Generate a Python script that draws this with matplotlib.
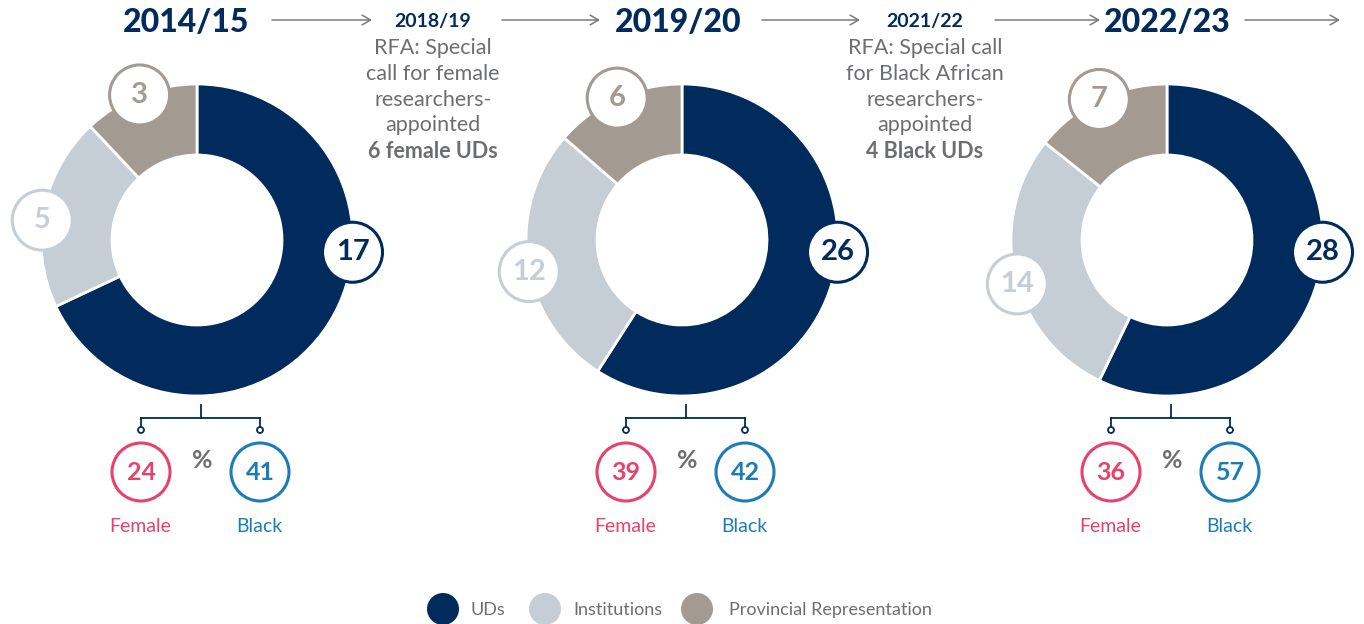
import matplotlib
matplotlib.use("Agg")
import matplotlib.pyplot as plt
from matplotlib.patches import Circle
import numpy as np

plt.rcParams['font.family'] = ['Lato', 'DejaVu Sans']

# ---------------- data ----------------
years = ['2014/15', '2019/20', '2022/23']
uds = [17, 26, 28]
institutions = [5, 12, 14]
provincial = [3, 6, 7]
female_pct = [24, 39, 36]
black_pct = [41, 42, 57]
milestone_years = ['2018/19', '2021/22']
milestone_texts = [['RFA: Special', 'call for female', 'researchers-', 'appointed'],
                   ['RFA: Special call', 'for Black African', 'researchers-', 'appointed']]
milestone_bold = ['6 female UDs', '4 Black UDs']
legend_labels = ['UDs', 'Institutions', 'Provincial Representation']

# ---------------- style ----------------
C_UD = '#002B5C'
C_INST = '#C5CED4'
C_PROV = '#A39A92'
C_FEM = '#E8416B'
C_BLK = '#1A7DB8'
C_GREY = '#6D6E71'
C_ARROW = '#7A7A7A'
seg_colors = [C_UD, C_INST, C_PROV]

W, H = 1364, 624
fig = plt.figure(figsize=(W / 100, H / 100), dpi=100)
ax = fig.add_axes([0, 0, 1, 1])

def Y(py):
    return H - py

centers_x = [197, 682, 1167]
header_x = [186, 678, 1167]
cy = 240
R_OUT = 156
R_W = 71
ud_label_angle = -4.5
label_angle_offset = [0, 3.5, 0]

for i, cx in enumerate(centers_x):
    vals = [uds[i], institutions[i], provincial[i]]
    ax.pie(vals, colors=seg_colors, startangle=90, counterclock=False,
           radius=R_OUT, center=(cx, Y(cy)), frame=True,
           wedgeprops=dict(width=R_W, edgecolor='white', linewidth=2))
    # label circles
    tot = sum(vals)
    cum = np.cumsum([0] + vals)
    for j, v in enumerate(vals):
        if j == 0:
            ang = ud_label_angle
        else:
            mid = (cum[j] + cum[j + 1]) / 2 / tot * 360
            ang = 90 - mid + label_angle_offset[j]
        lx = cx + R_OUT * np.cos(np.radians(ang))
        ly = Y(cy) + R_OUT * np.sin(np.radians(ang))
        ax.add_patch(Circle((lx, ly), 30, facecolor='white', edgecolor=seg_colors[j],
                            linewidth=2.2, zorder=5))
        ax.text(lx, ly, str(v), ha='center', va='center', fontsize=21, fontweight='bold',
                color=seg_colors[j], zorder=6)

    # bracket
    bx = cx + 4
    fx, kx = bx - 60, bx + 59
    ax.plot([bx, bx], [Y(405), Y(418)], color=C_UD, lw=1.3)
    ax.plot([fx, kx], [Y(418), Y(418)], color=C_UD, lw=1.3)
    for xx in (fx, kx):
        ax.plot([xx, xx], [Y(418), Y(428)], color=C_UD, lw=1.3)
        ax.add_patch(Circle((xx, Y(430)), 3, facecolor='white', edgecolor=C_UD, lw=1.3, zorder=4))
    # female / black circles
    for xx, val, col, lab in ((fx, female_pct[i], C_FEM, 'Female'), (kx, black_pct[i], C_BLK, 'Black')):
        ax.add_patch(Circle((xx, Y(472)), 29, facecolor='white', edgecolor=col, lw=2.2, zorder=4))
        ax.text(xx, Y(473), str(val), ha='center', va='center', fontsize=18, fontweight='bold',
                color=col, zorder=6)
        ax.text(xx - 1, Y(526), lab, ha='center', va='center', fontsize=14, color=col)
    ax.text(bx + 1, Y(461), '%', ha='center', va='center', fontsize=18, fontweight='bold', color=C_GREY)

    # year header
    ax.text(header_x[i], Y(22), years[i], ha='center', va='center', fontsize=23,
            fontweight='black', color=C_UD)

# milestones
milestone_x = [433, 925]
line_y = [48, 74, 100, 125]
for mx, yr, lines, bold in zip(milestone_x, milestone_years, milestone_texts, milestone_bold):
    ax.text(mx, Y(22), yr, ha='center', va='center', fontsize=14, fontweight='bold', color=C_UD)
    for ly, t in zip(line_y, lines):
        ax.text(mx, Y(ly), t, ha='center', va='center', fontsize=15.5, color=C_GREY)
    ax.text(mx, Y(151), bold, ha='center', va='center', fontsize=15.5, fontweight='bold', color=C_GREY)

# arrows
arrows = [(272, 372), (502, 600), (762, 860), (995, 1100), (1245, 1340)]
for x0, x1 in arrows:
    ax.annotate('', xy=(x1, Y(20)), xytext=(x0, Y(20)),
                arrowprops=dict(arrowstyle='->,head_length=0.6,head_width=0.35',
                                color=C_ARROW, lw=1.1, shrinkA=0, shrinkB=0))

# legend
leg_x = [443, 545, 697]
leg_tx = [470, 573, 729]
for lx, tx, lab, col in zip(leg_x, leg_tx, legend_labels, seg_colors):
    ax.add_patch(Circle((lx, Y(609)), 16, facecolor=col, edgecolor='none'))
    ax.text(tx, Y(610), lab, ha='left', va='center', fontsize=13, color=C_GREY)

ax.set_xlim(0, W)
ax.set_ylim(0, H)
ax.set_aspect('equal')
ax.axis('off')
fig.savefig('out.png', dpi=100)
